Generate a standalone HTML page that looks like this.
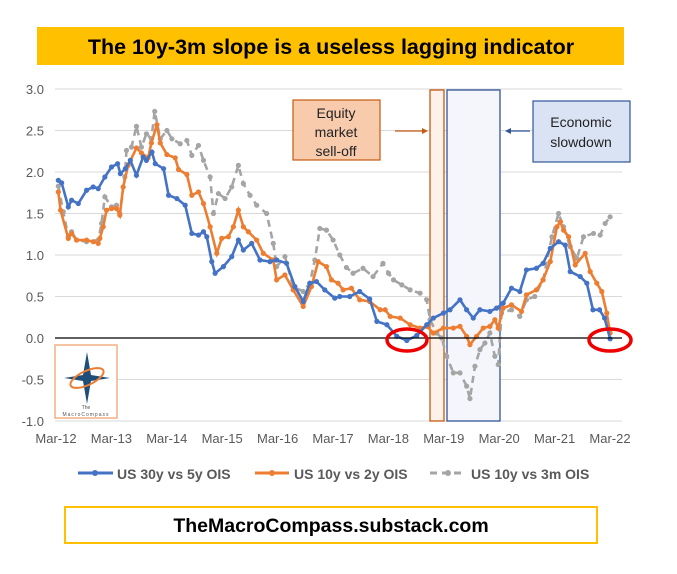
<!DOCTYPE html>
<html><head><meta charset="utf-8"><style>
body{margin:0;background:#fff;width:677px;height:574px;overflow:hidden;font-family:"Liberation Sans",Arial,sans-serif;}
svg{position:absolute;left:0;top:0;}
</style></head><body>
<svg width="677" height="574">
<rect x="37" y="27" width="587" height="38" fill="#FFC000"/>
<text x="331" y="54" text-anchor="middle" font-size="21.5" font-weight="bold" fill="#000">The 10y-3m slope is a useless lagging indicator</text>
<g id="grid"></g>
<rect x="430" y="90" width="14" height="331" fill="#FDF1E9" stroke="#C55A11" stroke-width="1.3"/>
<rect x="447" y="90" width="53" height="331" fill="#F4F6FB" stroke="#2F5597" stroke-width="1.3"/>
<g id="series"></g>
<line x1="55" y1="338" x2="622" y2="338" stroke="#000" stroke-width="1.2"/>
<ellipse cx="407" cy="340" rx="20" ry="11" fill="none" stroke="#E00" stroke-width="3.5"/>
<ellipse cx="610" cy="340" rx="21" ry="11" fill="none" stroke="#E00" stroke-width="3.5"/>
<rect x="293" y="100" width="87" height="60" fill="#F8CBAD" stroke="#C55A11" stroke-width="1.2"/>
<text x="336" y="118" text-anchor="middle" font-size="14" fill="#222"><tspan x="336">Equity</tspan><tspan x="336" dy="19">market</tspan><tspan x="336" dy="19">sell-off</tspan></text>
<line x1="395" y1="131" x2="423" y2="131" stroke="#C55A11" stroke-width="1.2"/><polygon points="428,131 422,128 422,134" fill="#C55A11"/>
<rect x="533" y="101" width="97" height="61" fill="#DAE3F3" stroke="#2F5597" stroke-width="1.2"/>
<text x="581" y="127" text-anchor="middle" font-size="14" fill="#222"><tspan x="581">Economic</tspan><tspan x="581" dy="20">slowdown</tspan></text>
<line x1="530" y1="131" x2="510" y2="131" stroke="#2F5597" stroke-width="1.2"/><polygon points="505,131 511,128 511,134" fill="#2F5597"/>
<g>
<rect x="55" y="345" width="62" height="73" fill="#fff" stroke="#F4B183" stroke-width="1.5"/>
<polygon points="87,352 91,375 110,378 91,381 87,404 83,381 64,378 83,375" fill="#1F4E79"/>
<ellipse cx="87" cy="378" rx="18" ry="7" fill="none" stroke="#ED7D31" stroke-width="2" transform="rotate(-25 87 378)"/>
<text x="86" y="409" text-anchor="middle" font-size="5" fill="#555">The</text>
<text x="86" y="416" text-anchor="middle" font-size="5" fill="#555" letter-spacing="1">MacroCompass</text>
</g>
<g id="legend">
<line x1="78" y1="473" x2="113" y2="473" stroke="#4472C4" stroke-width="3"/><circle cx="95" cy="473" r="3" fill="#4472C4"/>
<text x="117" y="479" font-size="14" font-weight="bold" fill="#595959">US 30y vs 5y OIS</text>
<line x1="255" y1="473" x2="289" y2="473" stroke="#ED7D31" stroke-width="3"/><circle cx="272" cy="473" r="3" fill="#ED7D31"/>
<text x="294" y="479" font-size="14" font-weight="bold" fill="#595959">US 10y vs 2y OIS</text>
<line x1="430" y1="473" x2="465" y2="473" stroke="#A5A5A5" stroke-width="3" stroke-dasharray="7,5"/><circle cx="448" cy="473" r="3" fill="#A5A5A5"/>
<text x="471" y="479" font-size="14" font-weight="bold" fill="#595959">US 10y vs 3m OIS</text>
</g>
<rect x="65" y="507" width="532" height="36" fill="#fff" stroke="#FFC000" stroke-width="2"/>
<text x="331" y="532" text-anchor="middle" font-size="19.5" font-weight="bold" fill="#000">TheMacroCompass.substack.com</text>
</svg>
<script>
const yTicks=[3.0,2.5,2.0,1.5,1.0,0.5,0.0,-0.5,-1.0];
const xLabels=["Mar-12","Mar-13","Mar-14","Mar-15","Mar-16","Mar-17","Mar-18","Mar-19","Mar-20","Mar-21","Mar-22"];
const blueT=[.06,.12,.24,.3,.42,.57,.69,.78,.9,1.02,1.13,1.18,1.27,1.36,1.47,1.59,1.65,1.75,1.81,1.96,2.05,2.2,2.35,2.47,2.59,2.68,2.74,2.83,2.89,3.04,3.19,3.31,3.4,3.55,3.7,3.88,4.0,4.18,4.33,4.48,4.6,4.72,4.87,5.05,5.14,5.32,5.5,5.68,5.81,5.99,6.17,6.35,6.53,6.71,6.83,7.01,7.13,7.31,7.43,7.55,7.67,7.85,7.97,8.09,8.24,8.39,8.51,8.69,8.81,8.94,9.09,9.21,9.3,9.48,9.6,9.71,9.83,9.92,10.02];
const blueV=[1.9,1.87,1.58,1.66,1.62,1.78,1.82,1.8,1.94,2.06,2.1,1.98,2.04,2.14,1.96,2.18,2.14,2.24,2.1,2.04,1.72,1.68,1.6,1.26,1.24,1.28,1.22,.92,.78,.86,.98,1.18,1.06,1.14,.94,.92,.94,.9,.62,.44,.66,.68,.58,.48,.5,.5,.56,.47,.2,.16,.02,-.03,.03,.16,.24,.3,.34,.46,.34,.24,.34,.32,.36,.42,.6,.56,.82,.84,.9,1.08,1.16,1.12,.8,.74,.66,.34,.34,.24,-.01];
const orangeT=[.06,.1,.24,.3,.39,.57,.69,.78,.81,.87,.93,1.02,1.11,1.17,1.23,1.32,1.47,1.56,1.68,1.74,1.84,1.9,2.02,2.17,2.23,2.38,2.47,2.59,2.68,2.8,2.92,3.01,3.13,3.22,3.31,3.4,3.49,3.64,3.76,3.94,4.0,4.15,4.3,4.48,4.63,4.75,4.9,4.99,5.11,5.2,5.35,5.5,5.68,5.87,5.96,6.05,6.23,6.41,6.59,6.71,6.83,7.01,7.19,7.31,7.43,7.49,7.61,7.73,7.85,7.94,8.0,8.09,8.24,8.42,8.51,8.69,8.81,8.94,9.06,9.12,9.18,9.27,9.39,9.57,9.66,9.78,9.87,9.96,10.02];
const orangeV=[1.76,1.54,1.2,1.26,1.18,1.18,1.16,1.14,1.2,1.34,1.54,1.56,1.56,1.48,1.82,2.08,2.29,2.23,2.17,2.35,2.57,2.35,2.21,2.17,2.03,1.97,1.72,1.76,1.62,1.34,1.02,1.2,1.22,1.34,1.54,1.34,1.28,1.18,1.02,.94,.7,.76,.58,.38,.62,.92,.86,.7,.66,.58,.6,.46,.44,.34,.34,.26,.24,.16,.12,.14,.06,.12,.12,.14,.02,-.08,.02,.12,.14,.22,.12,.36,.4,.32,.52,.58,.7,.92,1.34,1.4,1.3,1.22,.88,1.02,.8,.66,.56,.3,.06];
const grayT=[.06,.15,.24,.3,.39,.57,.78,.84,.9,1.02,1.11,1.17,1.26,1.29,1.38,1.47,1.56,1.65,1.74,1.8,1.9,2.02,2.11,2.26,2.38,2.47,2.59,2.68,2.8,2.86,2.95,3.07,3.19,3.31,3.4,3.52,3.64,3.82,3.94,4.0,4.15,4.3,4.48,4.6,4.69,4.78,4.9,5.02,5.14,5.26,5.38,5.56,5.74,5.92,6.02,6.11,6.26,6.41,6.59,6.71,6.77,6.89,6.98,7.07,7.19,7.31,7.43,7.49,7.58,7.67,7.76,7.85,7.94,8.0,8.06,8.24,8.39,8.51,8.66,8.81,8.97,9.09,9.18,9.3,9.42,9.54,9.72,9.84,9.93,10.02];
const grayV=[1.83,1.52,1.22,1.28,1.18,1.16,1.18,1.38,1.7,1.58,1.6,1.5,1.94,2.26,2.3,2.55,2.3,2.46,2.4,2.73,2.4,2.5,2.4,2.34,2.38,2.2,2.32,2.14,1.94,1.5,1.74,1.68,1.82,2.08,1.86,1.72,1.6,1.5,1.14,.86,.98,.62,.56,.66,.94,1.32,1.3,1.18,1.0,.85,.78,.84,.74,.9,.78,.7,.64,.58,.54,.46,.22,.06,0,-.22,-.42,-.42,-.58,-.73,-.34,-.14,-.06,.06,-.22,-.32,.3,.34,.26,.46,.5,.7,1.22,1.5,1.34,1.1,.96,1.22,1.26,1.24,1.38,1.46];
const NS="http://www.w3.org/2000/svg";
const X=t=>55+t*55.4, Y=v=>338-v*83;
const grid=document.getElementById('grid');
yTicks.forEach(v=>{
  if(v!==0){const l=document.createElementNS(NS,'line');
  l.setAttribute('x1',55);l.setAttribute('x2',622);l.setAttribute('y1',Y(v));l.setAttribute('y2',Y(v));
  l.setAttribute('stroke','#D9D9D9');l.setAttribute('stroke-width','1');
  
  
  grid.appendChild(l);}
  const t=document.createElementNS(NS,'text');
  t.setAttribute('x',44);t.setAttribute('y',Y(v)+5);t.setAttribute('text-anchor','end');
  t.setAttribute('font-size','13');t.setAttribute('fill','#595959');
  t.textContent=v.toFixed(1);
  
  
  grid.appendChild(t);
});
xLabels.forEach((s,i)=>{
  const t=document.createElementNS(NS,'text');
  t.setAttribute('x',X(i)+1);t.setAttribute('y',443);t.setAttribute('text-anchor','middle');
  t.setAttribute('font-size','13');t.setAttribute('fill','#595959');
  t.textContent=s;
  
  
  grid.appendChild(t);
});
const sg=document.getElementById('series');
function draw(T,V,col,dash,name){
  const g=document.createElementNS(NS,'g');
  
  
  const p=document.createElementNS(NS,'polyline');
  p.setAttribute('points',T.map((t,i)=>X(t)+','+Y(V[i])).join(' '));
  p.setAttribute('fill','none');p.setAttribute('stroke',col);p.setAttribute('stroke-width','2.6');
  if(dash)p.setAttribute('stroke-dasharray',dash);
  
  
  g.appendChild(p);
  T.forEach((t,i)=>{const c=document.createElementNS(NS,'circle');
    c.setAttribute('cx',X(t));c.setAttribute('cy',Y(V[i]));c.setAttribute('r','2.6');c.setAttribute('fill',col);
    
    
    g.appendChild(c);});
  sg.appendChild(g);
}
draw(grayT,grayV,'#A5A5A5','7,5','series-10y-3m');
draw(orangeT,orangeV,'#ED7D31','','series-10y-2y');
draw(blueT,blueV,'#4472C4','','series-30y-5y');
</script>
</body></html>
